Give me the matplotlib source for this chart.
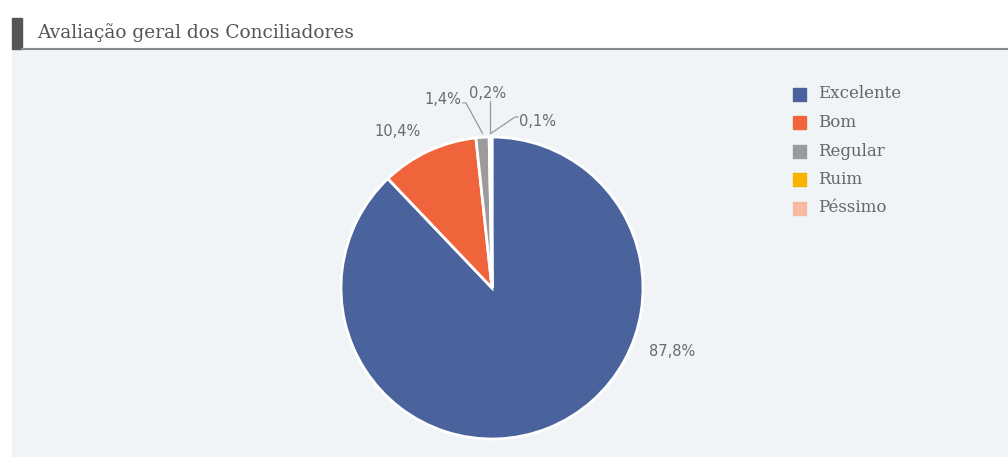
import matplotlib.pyplot as plt
import numpy as np
from matplotlib.patches import Rectangle

# Dados
categorias = ['Excelente', 'Bom', 'Regular', 'Ruim', 'Péssimo']
valores = [87.8, 10.4, 1.4, 0.2, 0.1]
cores = ['#4a639c', '#f0643c', '#9b9b9b', '#f6b400', '#f7b9a2']
titulo = 'Avaliação geral dos Conciliadores'

W, H = 1008, 457
fig = plt.figure(figsize=(W / 100, H / 100), dpi=100)
ax = fig.add_axes([0, 0, 1, 1])

# fundo / cabeçalho (coordenadas em pixels, y para cima)
ax.add_patch(Rectangle((12, 0), W - 12, H - 50, color='#f1f4f7', zorder=0))
ax.add_patch(Rectangle((12, H - 49), 10, 31, color='#555555', zorder=1))
ax.plot([22, W], [H - 48.5, H - 48.5], color='#8a8a8a', lw=1.5, zorder=1)
ax.text(37, H - 33, titulo, fontsize=13.4, family='DejaVu Serif', color='#555555',
        va='center', ha='left')

cx, cy, r = 492, H - 288, 151
wedges, _ = ax.pie(valores, colors=cores, startangle=90, counterclock=False,
                   center=(cx, cy), radius=r, frame=True,
                   wedgeprops=dict(edgecolor='white', linewidth=2))

# rótulos de porcentagem
lab_pos = [(672, H - 352), (398, H - 132), (443, H - 100), (488, H - 93), (538, H - 121)]
com_linha = [False, False, True, True, True]
for w, v, (lx, ly), lin in zip(wedges, valores, lab_pos, com_linha):
    txt = ('%.1f%%' % v).replace('.', ',')
    ax.text(lx, ly, txt, fontsize=10.5, color='#6a6a6a', ha='center', va='center')
    if lin:
        ang = np.deg2rad((w.theta1 + w.theta2) / 2)
        ex, ey = cx + r * np.cos(ang), cy + r * np.sin(ang) + 4
        if lx < cx - 10:
            ax.plot([lx + 20, lx + 23, ex], [ly - 3, ly - 3, ey], color='#999999', lw=0.9)
        elif lx > cx + 10:
            ax.plot([lx - 20, lx - 23, ex], [ly + 4, ly + 4, ey], color='#999999', lw=0.9)
        else:
            ax.plot([ex, ex], [ly - 8, ey], color='#999999', lw=0.9)

# legenda
ly0 = H - 94
for i, (c, nome) in enumerate(zip(cores, categorias)):
    y = ly0 - i * 28.5
    ax.add_patch(Rectangle((793, y - 6.5), 13, 13, color=c, zorder=3))
    ax.text(818, y, nome, fontsize=12, family='DejaVu Serif', color='#666666',
            va='center', ha='left')

ax.set_xlim(0, W)
ax.set_ylim(0, H)
ax.set_aspect('auto')
ax.axis('off')

fig.savefig('out.png', dpi=100, facecolor='white')
